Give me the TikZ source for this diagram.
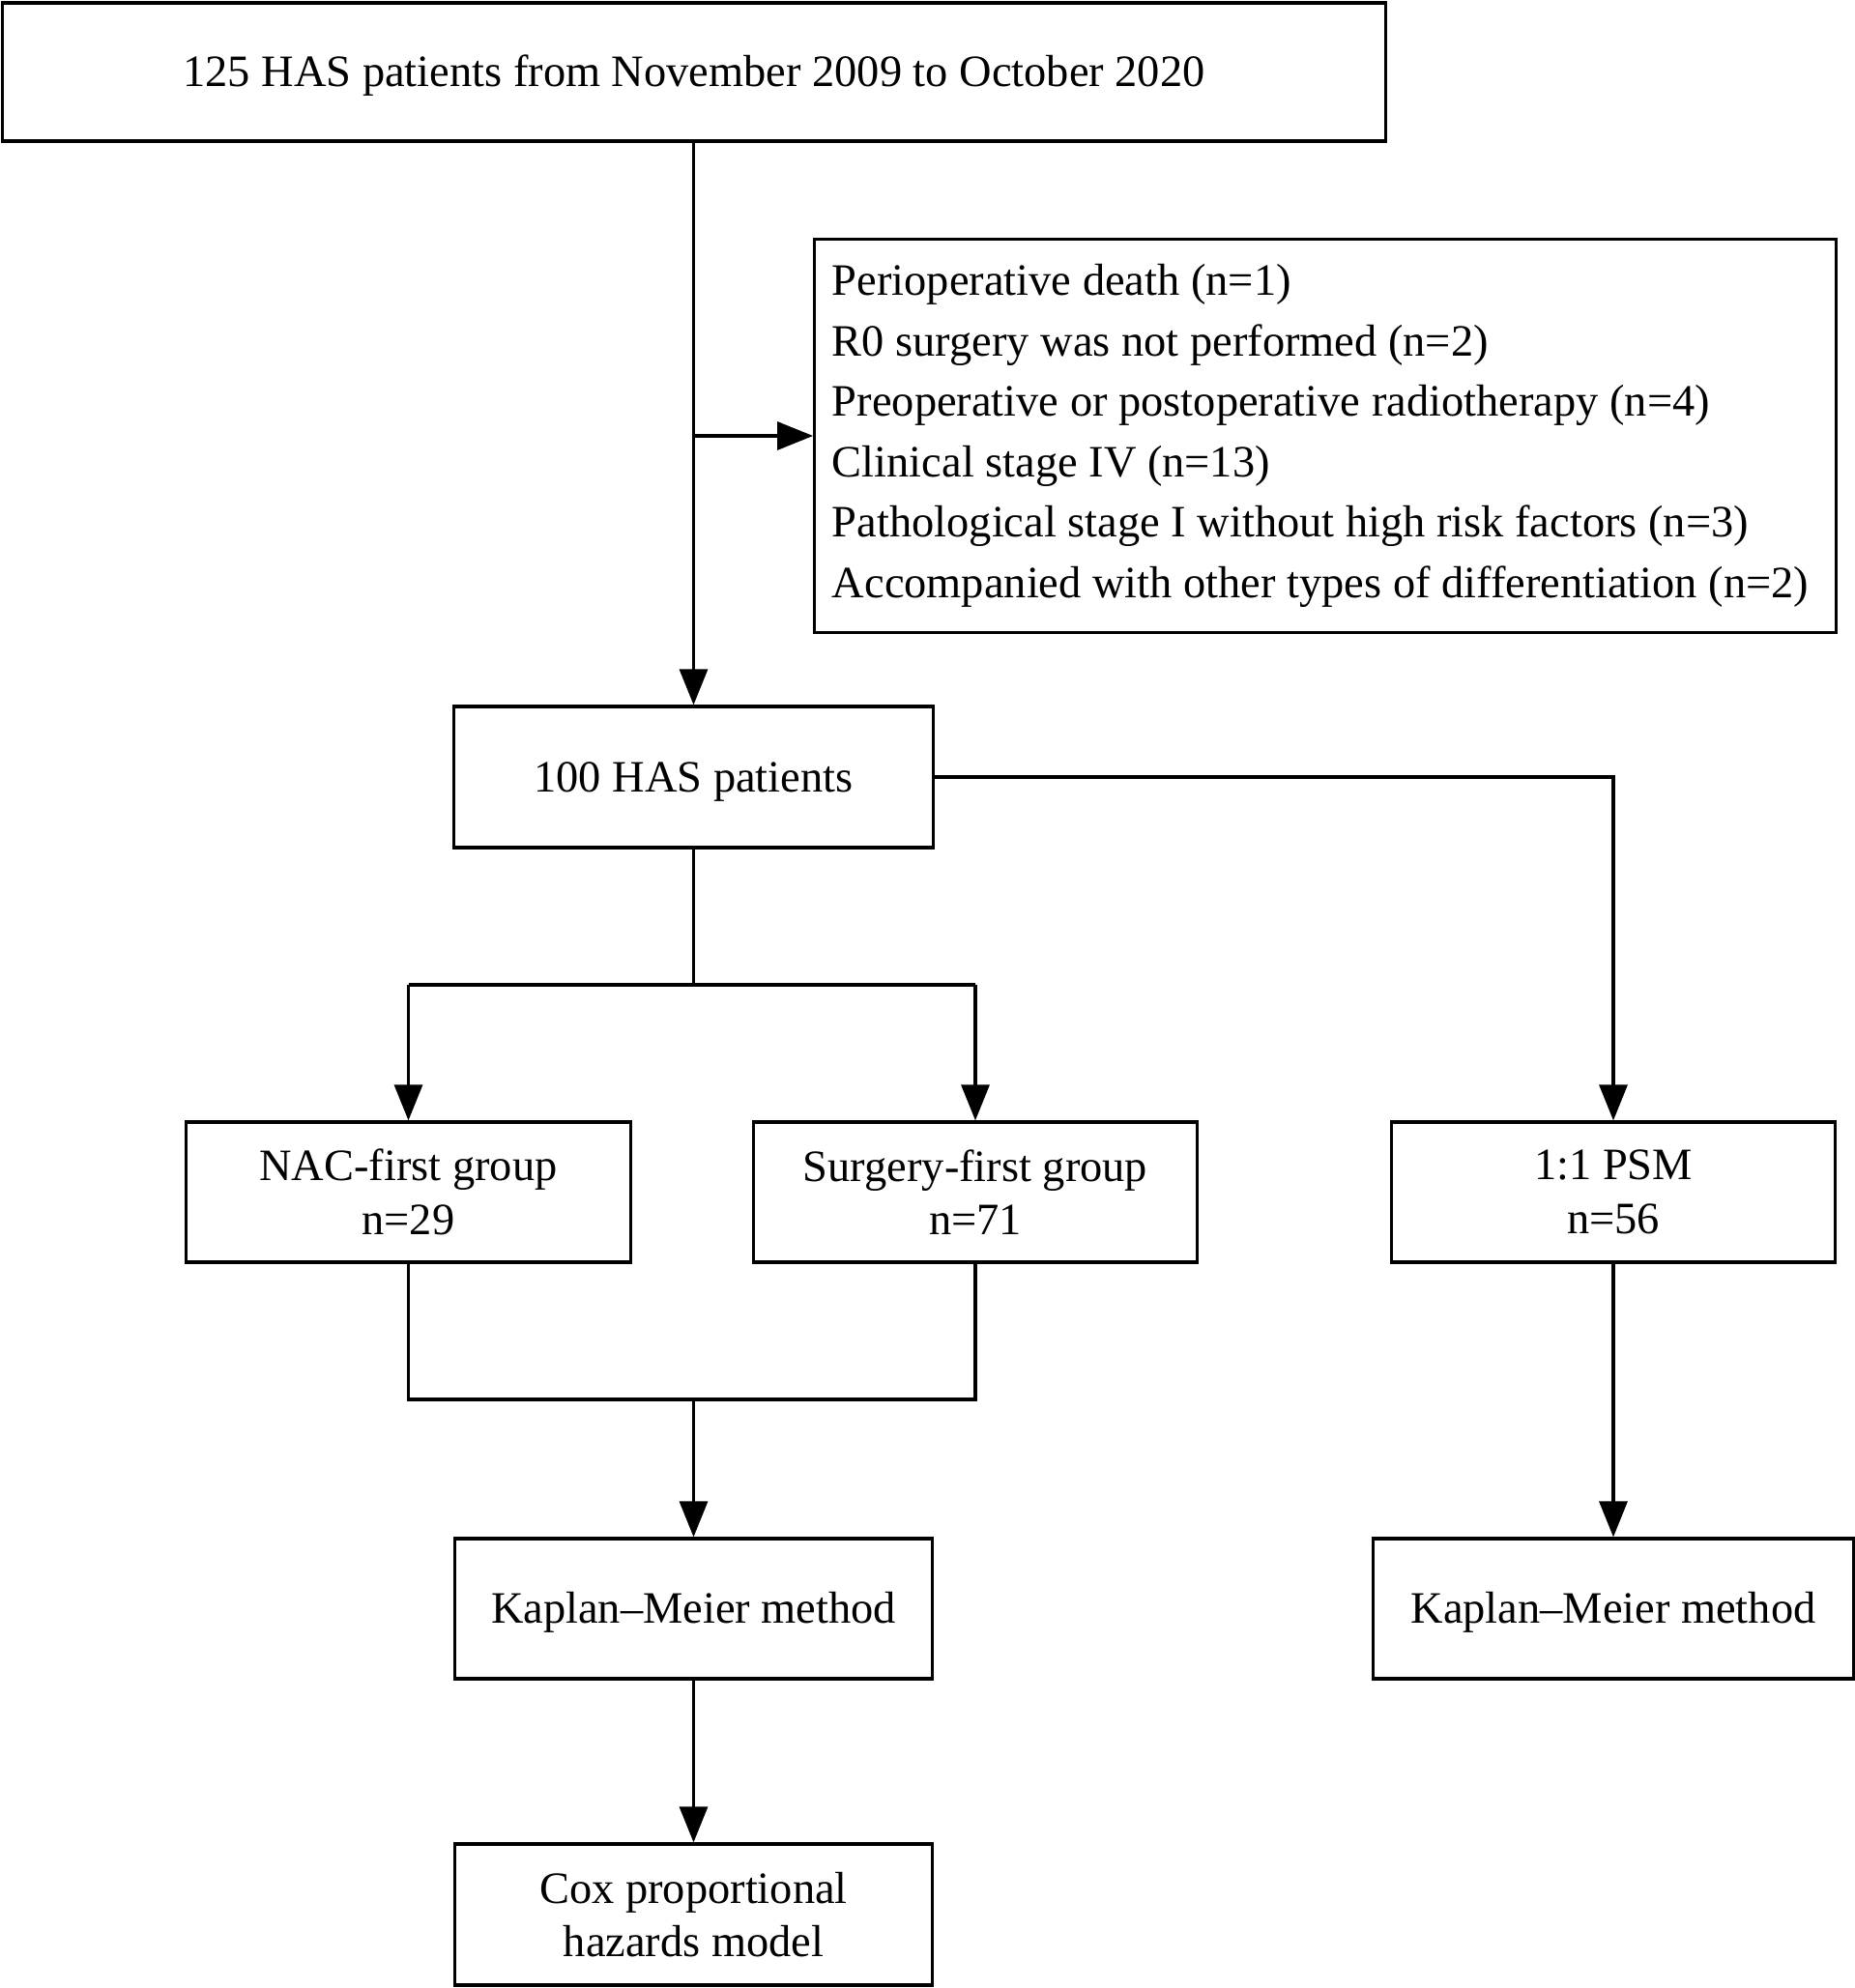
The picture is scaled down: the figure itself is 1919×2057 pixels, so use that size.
\documentclass[tikz,border=0pt]{standalone}
\usepackage{fontspec}
\setmainfont{Liberation Serif}
\usetikzlibrary{arrows.meta}
\begin{document}
\begin{tikzpicture}[x=0.01cm,y=-0.01cm,
  box/.style={draw,line width=0.9pt,inner sep=0pt,align=center,
    font=\fontsize{13.2}{15.8}\selectfont},
  oneline/.style={text height=0.40cm,text depth=0.10cm},
  conn/.style={line width=0.9pt},
  arr/.style={line width=0.9pt,-{Triangle[length=0.37cm,width=0.29cm]}}]
\useasboundingbox (0,0) rectangle (1919,2057);
\node[box,oneline,minimum width=14.30cm,minimum height=1.43cm] (top) at (718,74.5)
  {125 HAS patients from November 2009 to October 2020};
\node[box,minimum width=10.56cm,minimum height=4.06cm,align=left,
  inner xsep=0.12cm,
  font=\fontsize{13.2}{17.8}\selectfont] (excl) at (1371,451)
  {Perioperative death (n=1)\\
   R0 surgery was not performed (n=2)\\
   Preoperative or postoperative radiotherapy (n=4)\\
   Clinical stage IV (n=13)\\
   Pathological stage I without high risk factors (n=3)\\
   Accompanied with other types of differentiation (n=2)\hspace*{0.1cm}};
\node[box,oneline,minimum width=4.95cm,minimum height=1.46cm] (has) at (717.5,804)
  {100 HAS patients};
\node[box,minimum width=4.59cm,minimum height=1.45cm] (nac) at (422.5,1233.5)
  {NAC-first group\\n=29};
\node[box,minimum width=4.58cm,minimum height=1.45cm] (sur) at (1009,1233.5)
  {Surgery-first group\\n=71};
\node[box,minimum width=4.58cm,minimum height=1.45cm] (psm) at (1669,1233.5)
  {1:1 PSM\\n=56};
\node[box,oneline,minimum width=4.94cm,minimum height=1.45cm] (kml) at (717.5,1664.5)
  {Kaplan--Meier method};
\node[box,oneline,minimum width=4.96cm,minimum height=1.45cm] (kmr) at (1669,1664.5)
  {Kaplan--Meier method};
\node[box,minimum width=4.94cm,minimum height=1.46cm] (cox) at (717.5,1981)
  {Cox proportional\\hazards model};
\coordinate (j1) at (717.5,1019);
\coordinate (j2) at (717.5,1448);
% connectors
\draw[arr] (top.south -| has.north) -- (has.north);
\draw[arr] (has.north |- excl.west) -- (excl.west);
\draw[arr] (has.east) -- (psm.north |- has.east) -- (psm.north);
\draw[conn] (has.south) -- (j1);
\draw[conn] (nac.north |- j1) -- (sur.north |- j1);
\draw[arr] (nac.north |- j1) -- (nac.north);
\draw[arr] (sur.north |- j1) -- (sur.north);
\draw[conn] (nac.south) -- (nac.south |- j2) -- (sur.south |- j2) -- (sur.south);
\draw[arr] (j2) -- (kml.north);
\draw[arr] (psm.south) -- (kmr.north);
\draw[arr] (kml.south) -- (cox.north);
\end{tikzpicture}
\end{document}
